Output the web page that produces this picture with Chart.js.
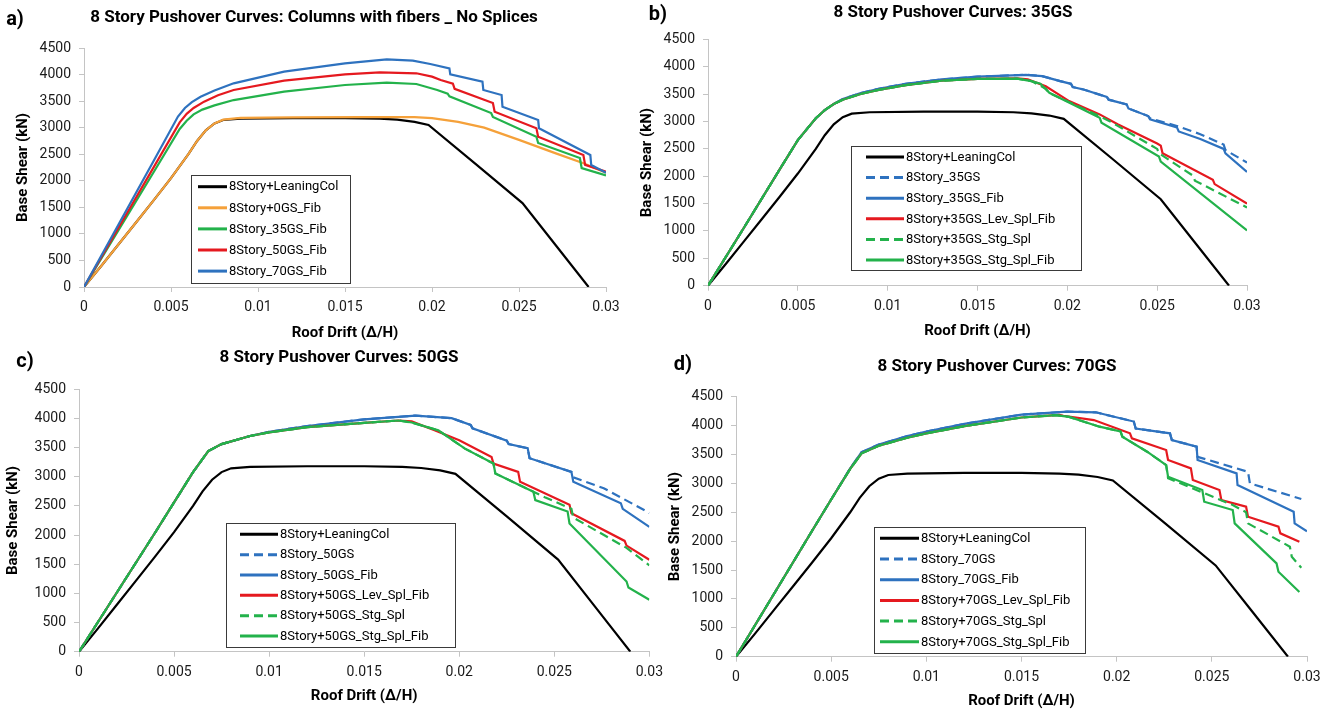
<!DOCTYPE html>
<html>
<head>
<meta charset="utf-8">
<script src="https://cdn.jsdelivr.net/npm/chart.js@4.4.1/dist/chart.umd.min.js"></script>
<style>
  html, body { margin: 0; padding: 0; background: #ffffff; }
  body { width: 1333px; height: 715px; position: relative; overflow: hidden; }
  canvas { position: absolute; }
</style>
</head>
<body>
<canvas id="pa"></canvas>
<canvas id="pb"></canvas>
<canvas id="pc"></canvas>
<canvas id="pd"></canvas>
<script>
// ---------------- DATA (roof drift, base shear kN) ----------------
const xTickLabels = ['0', '0.005', '0.01', '0.015', '0.02', '0.025', '0.03'];
const yTickLabels = ['0', '500', '1000', '1500', '2000', '2500', '3000', '3500', '4000', '4500'];

const leaningCol = [[0,0],[0.001,400],[0.002,810],[0.003,1220],[0.004,1630],[0.005,2050],[0.006,2500],[0.0065,2750],[0.007,2950],[0.0075,3080],[0.008,3145],[0.009,3170],[0.012,3180],[0.015,3180],[0.017,3170],[0.018,3150],[0.019,3110],[0.0198,3050],[0.0225,2320],[0.0252,1580],[0.0271,790],[0.029,0]];

// panel a
const a_0GS_Fib  = [[0,0],[0.001,400],[0.002,810],[0.003,1220],[0.004,1630],[0.005,2050],[0.006,2500],[0.0065,2750],[0.007,2950],[0.0075,3080],[0.008,3150],[0.009,3185],[0.012,3195],[0.016,3200],[0.019,3200],[0.020,3180],[0.0215,3110],[0.023,3000],[0.025,2770],[0.027,2530],[0.0287,2330],[0.030,2150]];
const a_35GS_Fib = [[0,0],[0.002,1080],[0.004,2160],[0.0055,2975],[0.0059,3130],[0.0063,3250],[0.0068,3340],[0.0075,3420],[0.0086,3520],[0.0115,3678],[0.015,3803],[0.0174,3848],[0.0191,3822],[0.0203,3709],[0.0209,3640],[0.0210,3590],[0.0234,3276],[0.0235,3200],[0.0260,2830],[0.0261,2711],[0.0285,2429],[0.0286,2240],[0.030,2100]];
const a_50GS_Fib = [[0,0],[0.002,1126],[0.004,2252],[0.0055,3100],[0.0059,3260],[0.0063,3370],[0.0069,3490],[0.0077,3610],[0.0086,3709],[0.0115,3886],[0.015,4005],[0.017,4042],[0.0191,4024],[0.0200,3960],[0.0205,3898],[0.0212,3830],[0.0213,3730],[0.0235,3465],[0.0236,3301],[0.0260,2988],[0.0261,2830],[0.0287,2485],[0.0288,2300],[0.030,2170]];
const a_70GS_Fib = [[0,0],[0.002,1186],[0.004,2372],[0.0054,3210],[0.0058,3370],[0.0062,3480],[0.0067,3583],[0.0075,3700],[0.0086,3835],[0.0115,4054],[0.015,4211],[0.0174,4287],[0.0189,4262],[0.0199,4199],[0.0210,4117],[0.02105,4005],[0.0229,3866],[0.02295,3709],[0.0240,3615],[0.02405,3395],[0.0261,3144],[0.02615,2988],[0.0291,2485],[0.02915,2297],[0.030,2152]];

// panel b
const b_35GS          = [[0,0],[0.002,1060],[0.004,2130],[0.005,2662],[0.006,3060],[0.0065,3210],[0.007,3320],[0.0075,3410],[0.0085,3520],[0.0095,3600],[0.011,3690],[0.013,3770],[0.015,3820],[0.0177,3855],[0.0186,3830],[0.0196,3740],[0.0202,3690],[0.0203,3630],[0.0209,3587],[0.0222,3450],[0.0223,3400],[0.0233,3314],[0.0234,3240],[0.0245,3100],[0.0246,3060],[0.0261,2920],[0.0274,2770],[0.0287,2580],[0.0288,2480],[0.030,2250]];
const b_35GS_Fib      = [[0,0],[0.002,1060],[0.004,2130],[0.005,2662],[0.006,3060],[0.0065,3210],[0.007,3320],[0.0075,3410],[0.0085,3520],[0.0095,3600],[0.011,3690],[0.013,3770],[0.015,3820],[0.0177,3855],[0.0186,3830],[0.0196,3740],[0.0202,3690],[0.0203,3630],[0.0209,3587],[0.0222,3450],[0.0223,3400],[0.0233,3314],[0.0234,3240],[0.0245,3100],[0.0246,3040],[0.0261,2894],[0.0262,2820],[0.0274,2682],[0.0287,2500],[0.0288,2420],[0.030,2080]];
const b_35GS_Lev_Spl_Fib = [[0,0],[0.002,1060],[0.004,2130],[0.005,2662],[0.006,3060],[0.0065,3210],[0.007,3320],[0.0075,3400],[0.0085,3505],[0.0095,3580],[0.011,3665],[0.013,3746],[0.015,3780],[0.0172,3790],[0.0178,3770],[0.0188,3646],[0.0201,3374],[0.0218,3131],[0.0228,2950],[0.0250,2600],[0.0252,2560],[0.0253,2420],[0.0281,1935],[0.0282,1857],[0.030,1500]];
const b_35GS_Stg_Spl     = [[0,0],[0.002,1060],[0.004,2130],[0.005,2662],[0.006,3060],[0.0065,3210],[0.007,3320],[0.0075,3400],[0.0085,3505],[0.0095,3580],[0.011,3665],[0.013,3746],[0.015,3780],[0.0172,3785],[0.0180,3740],[0.0188,3600],[0.0190,3520],[0.0218,3100],[0.0225,2980],[0.0250,2500],[0.0251,2420],[0.0270,2010],[0.0271,1920],[0.030,1430]];
const b_35GS_Stg_Spl_Fib = [[0,0],[0.002,1060],[0.004,2130],[0.005,2662],[0.006,3060],[0.0065,3210],[0.007,3320],[0.0075,3400],[0.0085,3505],[0.0095,3580],[0.011,3665],[0.013,3746],[0.015,3780],[0.0172,3785],[0.0180,3740],[0.0185,3690],[0.0190,3526],[0.0218,3070],[0.0219,2980],[0.0251,2360],[0.0252,2270],[0.030,1010]];

// panel c
const c_50GS          = [[0,0],[0.002,1020],[0.004,2040],[0.005,2560],[0.006,3080],[0.0068,3440],[0.0075,3560],[0.009,3700],[0.010,3770],[0.012,3870],[0.015,3985],[0.0177,4050],[0.0196,4005],[0.0206,3889],[0.0207,3830],[0.0225,3620],[0.0226,3560],[0.0236,3489],[0.0237,3318],[0.0259,3084],[0.0260,2990],[0.0276,2804],[0.030,2380]];
const c_50GS_Fib      = [[0,0],[0.002,1020],[0.004,2040],[0.005,2560],[0.006,3080],[0.0068,3440],[0.0075,3560],[0.009,3700],[0.010,3770],[0.012,3870],[0.015,3985],[0.0177,4050],[0.0196,4005],[0.0206,3889],[0.0207,3830],[0.0225,3620],[0.0226,3560],[0.0236,3489],[0.0237,3318],[0.0259,3084],[0.0260,2913],[0.0285,2547],[0.0286,2450],[0.030,2140]];
const c_50GS_Lev_Spl_Fib = [[0,0],[0.002,1020],[0.004,2040],[0.005,2560],[0.006,3080],[0.0068,3440],[0.0075,3560],[0.009,3700],[0.010,3760],[0.012,3850],[0.015,3925],[0.0168,3965],[0.0175,3950],[0.0187,3796],[0.0200,3625],[0.0217,3340],[0.0218,3225],[0.0231,3084],[0.0232,2913],[0.0258,2518],[0.0259,2376],[0.0287,1900],[0.0288,1820],[0.030,1576]];
const c_50GS_Stg_Spl     = [[0,0],[0.002,1020],[0.004,2040],[0.005,2560],[0.006,3080],[0.0068,3440],[0.0075,3560],[0.009,3700],[0.010,3760],[0.012,3850],[0.015,3925],[0.0168,3965],[0.0175,3930],[0.0189,3796],[0.0203,3483],[0.0218,3226],[0.0219,3055],[0.0239,2744],[0.0245,2650],[0.0259,2450],[0.0260,2300],[0.0288,1780],[0.030,1480]];
const c_50GS_Stg_Spl_Fib = [[0,0],[0.002,1020],[0.004,2040],[0.005,2560],[0.006,3080],[0.0068,3440],[0.0075,3560],[0.009,3700],[0.010,3760],[0.012,3850],[0.015,3925],[0.0168,3965],[0.0175,3930],[0.0189,3796],[0.0203,3483],[0.0218,3226],[0.0219,3055],[0.0239,2744],[0.0240,2600],[0.0257,2403],[0.0258,2200],[0.0288,1204],[0.0289,1100],[0.030,890]];

// panel d
const d_70GS          = [[0,0],[0.002,1090],[0.004,2180],[0.005,2720],[0.006,3260],[0.0066,3540],[0.0075,3670],[0.009,3820],[0.010,3895],[0.012,4030],[0.015,4190],[0.0174,4240],[0.0189,4230],[0.0209,4070],[0.0210,3950],[0.0228,3866],[0.0229,3750],[0.0242,3635],[0.02425,3460],[0.0269,3200],[0.0270,3000],[0.0297,2730]];
const d_70GS_Fib      = [[0,0],[0.002,1090],[0.004,2180],[0.005,2720],[0.006,3260],[0.0066,3540],[0.0075,3670],[0.009,3820],[0.010,3895],[0.012,4030],[0.015,4190],[0.0174,4240],[0.0189,4230],[0.0209,4070],[0.0210,3950],[0.0228,3866],[0.0229,3750],[0.0242,3635],[0.02425,3404],[0.0263,3173],[0.02635,2971],[0.0293,2510],[0.02935,2308],[0.030,2170]];
const d_70GS_Lev_Spl_Fib = [[0,0],[0.002,1090],[0.004,2180],[0.005,2720],[0.006,3250],[0.0066,3520],[0.0075,3650],[0.009,3790],[0.010,3865],[0.012,3990],[0.015,4140],[0.017,4185],[0.0172,4170],[0.0188,4096],[0.0207,3866],[0.0208,3780],[0.0226,3577],[0.0227,3404],[0.0239,3260],[0.0240,3058],[0.0254,2885],[0.0255,2712],[0.0268,2596],[0.0269,2423],[0.0285,2250],[0.0286,2135],[0.0296,1990]];
const d_70GS_Stg_Spl     = [[0,0],[0.002,1090],[0.004,2180],[0.005,2720],[0.006,3250],[0.0066,3520],[0.0075,3650],[0.009,3790],[0.010,3865],[0.012,3990],[0.015,4140],[0.0168,4180],[0.0175,4150],[0.0191,3981],[0.0202,3900],[0.0203,3808],[0.0216,3548],[0.0226,3317],[0.0227,3090],[0.0261,2625],[0.0268,2500],[0.0269,2308],[0.0291,1904],[0.0292,1730],[0.0297,1540]];
const d_70GS_Stg_Spl_Fib = [[0,0],[0.002,1090],[0.004,2180],[0.005,2720],[0.006,3250],[0.0066,3520],[0.0075,3650],[0.009,3790],[0.010,3865],[0.012,3990],[0.015,4140],[0.0168,4180],[0.0175,4150],[0.0191,3981],[0.0202,3900],[0.0203,3808],[0.0216,3548],[0.0226,3317],[0.0227,3115],[0.0245,2885],[0.0246,2683],[0.0261,2538],[0.0262,2308],[0.0284,1615],[0.0285,1471],[0.0296,1120]];

// ---------------- STYLE ----------------
const C = { black: '#000000', orange: '#F5A13A', green: '#23B24B', red: '#E5191F', blue: '#2E72BF' };
const DASH = [9, 5];
const FONT = 'Roboto';

function toXY(arr) { return arr.map(p => ({ x: p[0], y: p[1] })); }
function ds(label, arr, color, dashed, idx, n) {
  return {
    label, data: toXY(arr), borderColor: color, backgroundColor: color,
    borderWidth: 2.2, borderDash: dashed ? DASH : [], pointRadius: 0, pointHoverRadius: 0,
    tension: 0, fill: false, order: n - idx
  };
}

const boxLegend = {
  id: 'boxLegend',
  afterDraw(chart, args, o) {
    const ctx = chart.ctx;
    const ox = o.offX, oy = o.offY;
    ctx.save();
    ctx.setLineDash([]);
    ctx.fillStyle = '#ffffff';
    ctx.fillRect(o.x - ox, o.y - oy, o.w, o.h);
    ctx.strokeStyle = '#3a3a3a';
    ctx.lineWidth = 1;
    ctx.strokeRect(Math.round(o.x - ox) + 0.5, Math.round(o.y - oy) + 0.5, o.w, o.h);
    ctx.font = '13px ' + FONT;
    ctx.textBaseline = 'middle';
    ctx.textAlign = 'left';
    chart.data.datasets.forEach((d, i) => {
      const y = o.row0 + i * o.gap - oy;
      ctx.beginPath();
      ctx.setLineDash(d.borderDash || []);
      ctx.strokeStyle = d.borderColor;
      ctx.lineWidth = 3;
      ctx.moveTo(o.lx0 - ox, y);
      ctx.lineTo(o.lx1 - ox, y);
      ctx.stroke();
      ctx.setLineDash([]);
      ctx.fillStyle = '#000';
      ctx.fillText(d.label, o.tx - ox, y + 0.5);
    });
    ctx.restore();
  }
};

const panelTitle = {
  id: 'panelTitle',
  afterDraw(chart, args, o) {
    const ctx = chart.ctx;
    ctx.save();
    ctx.fillStyle = '#000';
    ctx.textBaseline = 'middle';
    ctx.font = 'bold 20px ' + FONT;
    ctx.textAlign = 'center';
    ctx.fillText(o.tag, o.tagX - o.offX, o.tagY - o.offY);
    ctx.font = 'bold 17px ' + FONT;
    ctx.fillText(o.text, o.titleX - o.offX, o.titleY - o.offY);
    ctx.restore();
  }
};

function makeChart(id, L, datasets, titleText, tag, legend) {
  const cv = document.getElementById(id);
  cv.width = L.w; cv.height = L.h;
  cv.style.left = L.left + 'px'; cv.style.top = L.top + 'px';
  cv.style.width = L.w + 'px'; cv.style.height = L.h + 'px';
  return new Chart(cv, {
    type: 'line',
    data: { datasets },
    plugins: [boxLegend, panelTitle],
    options: {
      responsive: false, animation: false, devicePixelRatio: 1,
      layout: { padding: { left: 0, top: L.areaTop, right: L.padR, bottom: 0 } },
      plugins: {
        legend: { display: false }, tooltip: { enabled: false }, title: { display: false },
        boxLegend: Object.assign({ offX: L.left, offY: L.top }, legend),
        panelTitle: { offX: L.left, offY: L.top, tag, text: titleText, tagX: L.tagX, tagY: L.tagY, titleX: L.titleX, titleY: L.titleY }
      },
      scales: {
        x: {
          type: 'linear', min: 0, max: 0.03,
          afterFit: s => { s.height = L.xH; },
          grid: { drawOnChartArea: false, drawTicks: true, tickLength: 5, color: '#c4c4c4' },
          border: { color: '#c4c4c4', width: 1 },
          ticks: { stepSize: 0.005, autoSkip: false, maxRotation: 0, padding: 7, color: '#1a1a1a',
                   font: { family: FONT, size: 14 },
                   callback: (v, i) => xTickLabels[i] },
          title: { display: true, text: 'Roof Drift (Δ/H)', color: '#000',
                   font: { family: FONT, size: 15, weight: 'bold' }, padding: { top: 0, bottom: L.xTitlePad } }
        },
        y: {
          type: 'linear', min: 0, max: 4500,
          afterFit: s => { s.width = L.yW; },
          grid: { drawOnChartArea: false, drawTicks: true, tickLength: 5, color: '#c4c4c4' },
          border: { color: '#c4c4c4', width: 1 },
          ticks: { stepSize: 500, autoSkip: false, padding: 8, color: '#1a1a1a',
                   font: { family: FONT, size: 14 },
                   callback: (v, i) => yTickLabels[i] },
          title: { display: true, text: 'Base Shear (kN)', color: '#000',
                   font: { family: FONT, size: 15, weight: 'bold' }, padding: { top: L.yTitlePad, bottom: 0 } }
        }
      }
    }
  });
}

// panel a
makeChart('pa',
  { left: 0, top: 0, w: 640, h: 345, areaTop: 48, padR: 34, yW: 84, xH: 58, yTitlePad: 14, xTitlePad: 3,
    tagX: 15, tagY: 20, titleX: 314, titleY: 18 },
  [ds('8Story+LeaningCol', leaningCol, C.black, false, 0, 5),
   ds('8Story+0GS_Fib', a_0GS_Fib, C.orange, false, 1, 5),
   ds('8Story_35GS_Fib', a_35GS_Fib, C.green, false, 2, 5),
   ds('8Story_50GS_Fib', a_50GS_Fib, C.red, false, 3, 5),
   ds('8Story_70GS_Fib', a_70GS_Fib, C.blue, false, 4, 5)],
  '8 Story Pushover Curves: Columns with fibers _ No Splices', 'a)',
  { x: 191, y: 175, w: 159, h: 108, row0: 186.7, gap: 21.1, lx0: 198, lx1: 227, tx: 229 });

// panel b
makeChart('pb',
  { left: 630, top: 0, w: 703, h: 345, areaTop: 39.5, padR: 86, yW: 78, xH: 59.3, yTitlePad: 8, xTitlePad: 4.3,
    tagX: 658, tagY: 15, titleX: 953, titleY: 13 },
  [ds('8Story+LeaningCol', leaningCol, C.black, false, 0, 6),
   ds('8Story_35GS', b_35GS, C.blue, true, 1, 6),
   ds('8Story_35GS_Fib', b_35GS_Fib, C.blue, false, 2, 6),
   ds('8Story+35GS_Lev_Spl_Fib', b_35GS_Lev_Spl_Fib, C.red, false, 3, 6),
   ds('8Story+35GS_Stg_Spl', b_35GS_Stg_Spl, C.green, true, 4, 6),
   ds('8Story+35GS_Stg_Spl_Fib', b_35GS_Stg_Spl_Fib, C.green, false, 5, 6)],
  '8 Story Pushover Curves: 35GS', 'b)',
  { x: 851, y: 146, w: 230, h: 124, row0: 157, gap: 20.6, lx0: 866, lx1: 904, tx: 906 });

// panel c
makeChart('pc',
  { left: 0, top: 340, w: 670, h: 375, areaTop: 49.3, padR: 17.5, yW: 79, xH: 63.3, yTitlePad: 4, xTitlePad: 9.3,
    tagX: 25, tagY: 362, titleX: 339, titleY: 358 },
  [ds('8Story+LeaningCol', leaningCol, C.black, false, 0, 6),
   ds('8Story_50GS', c_50GS, C.blue, true, 1, 6),
   ds('8Story_50GS_Fib', c_50GS_Fib, C.blue, false, 2, 6),
   ds('8Story+50GS_Lev_Spl_Fib', c_50GS_Lev_Spl_Fib, C.red, false, 3, 6),
   ds('8Story+50GS_Stg_Spl', c_50GS_Stg_Spl, C.green, true, 4, 6),
   ds('8Story+50GS_Stg_Spl_Fib', c_50GS_Stg_Spl_Fib, C.green, false, 5, 6)],
  '8 Story Pushover Curves: 50GS', 'c)',
  { x: 226, y: 523, w: 229, h: 124, row0: 534.3, gap: 20.35, lx0: 240, lx1: 278, tx: 280 });

// panel d
makeChart('pd',
  { left: 660, top: 345, w: 673, h: 370, areaTop: 51.7, padR: 26, yW: 76, xH: 58.3, yTitlePad: 6, xTitlePad: 4.3,
    tagX: 683, tagY: 365, titleX: 997, titleY: 367 },
  [ds('8Story+LeaningCol', leaningCol, C.black, false, 0, 6),
   ds('8Story_70GS', d_70GS, C.blue, true, 1, 6),
   ds('8Story_70GS_Fib', d_70GS_Fib, C.blue, false, 2, 6),
   ds('8Story+70GS_Lev_Spl_Fib', d_70GS_Lev_Spl_Fib, C.red, false, 3, 6),
   ds('8Story+70GS_Stg_Spl', d_70GS_Stg_Spl, C.green, true, 4, 6),
   ds('8Story+70GS_Stg_Spl_Fib', d_70GS_Stg_Spl_Fib, C.green, false, 5, 6)],
  '8 Story Pushover Curves: 70GS', 'd)',
  { x: 874, y: 527, w: 211, h: 126, row0: 538.3, gap: 20.7, lx0: 880, lx1: 919, tx: 921 });
</script>
</body>
</html>
